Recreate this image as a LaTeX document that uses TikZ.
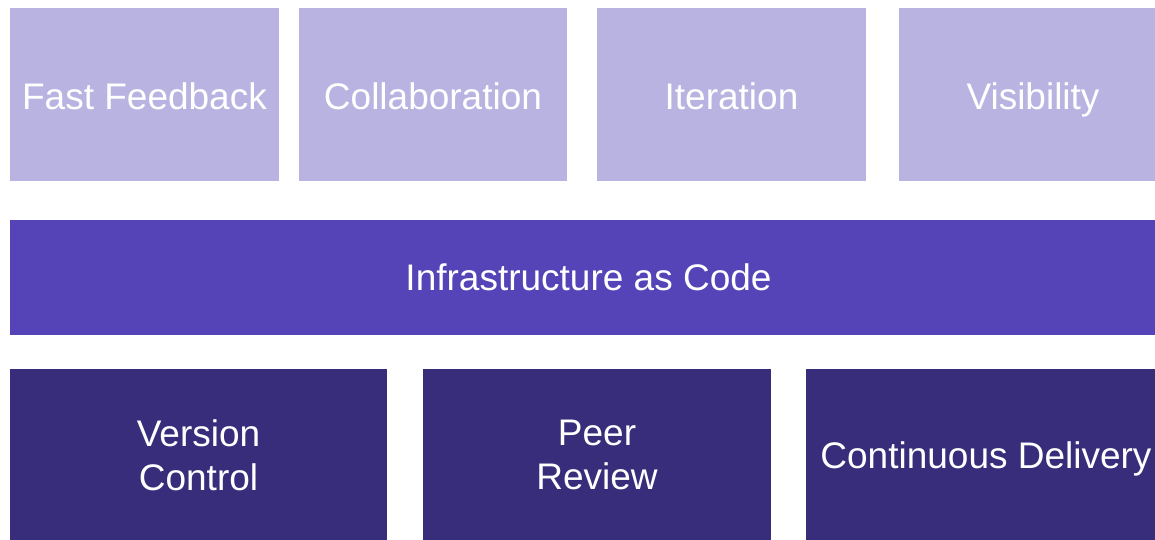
\documentclass[tikz,border=0pt]{standalone}
\usepackage{fontspec}
\setmainfont{Liberation Sans}
\definecolor{lightpurple}{HTML}{B9B3E2}
\definecolor{midpurple}{HTML}{5444B8}
\definecolor{darkpurple}{HTML}{382D7A}
\begin{document}
\begin{tikzpicture}[
			x=1pt, y=-1pt,
			block/.style={rectangle, inner sep=0pt, outer sep=0pt, text=white, align=center,
				font=\fontsize{37}{44}\selectfont},
			oneline/.style={text height=26.5pt, text depth=0pt},
			top/.style={block, oneline, text height=29.5pt, fill=lightpurple, minimum height=173pt},
			base/.style={block, fill=darkpurple, minimum height=172pt}
		]
		\useasboundingbox (0,0) rectangle (1155,539);
		\clip (0,0) rectangle (1155,539);
		\node[top, minimum width=269pt] (feedback) at (144.5,94.5) {Fast Feedback};
		\node[top, minimum width=268pt] (collab) at (433,94.5) {Collaboration};
		\node[top, minimum width=269pt] (iteration) at (731.5,94.5) {Iteration};
		\node[top, minimum width=268pt] (visibility) at (1033,94.5) {Visibility};
		\node[block, oneline, fill=midpurple, minimum width=1157pt, minimum height=115pt] (iac) at (588.5,277.5) {Infrastructure as Code};
		\node[base, minimum width=377pt] (vcs) at (198.5,455) {Version\\Control};
		\node[base, minimum width=348pt] (review) at (597,455) {Peer\\Review};
		\node[base, oneline, minimum width=360pt] (delivery) at (986,455) {Continuous Delivery};
	\end{tikzpicture}
\end{document}
